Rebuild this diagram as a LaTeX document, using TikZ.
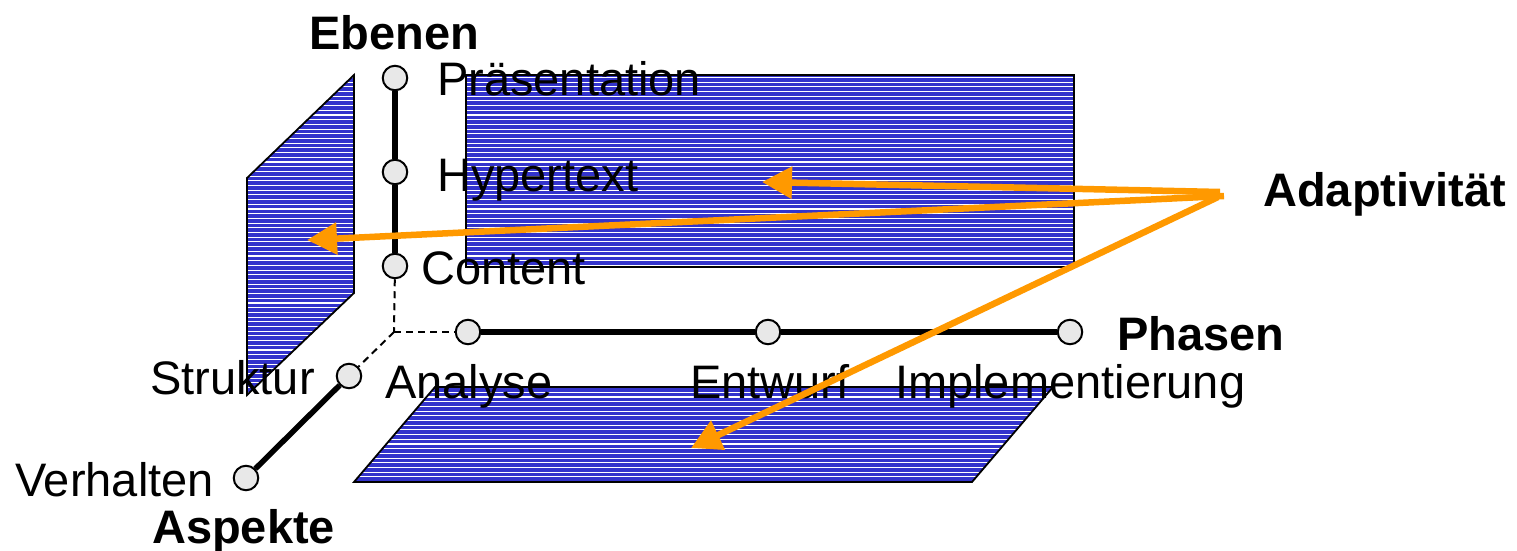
\documentclass[tikz,border=0pt]{standalone}
\usepackage{fontspec}
\setmainfont{Liberation Sans}
\usetikzlibrary{arrows.meta}

\definecolor{planeblue}{RGB}{51,51,204}
\definecolor{adaptorange}{RGB}{255,153,0}
\definecolor{knobgray}{RGB}{232,232,232}

\tikzset{
  lbl/.style={font=\fontsize{47}{56}\selectfont, inner sep=0pt, anchor=base west},
  blbl/.style={font=\fontsize{47}{56}\selectfont\bfseries, inner sep=0pt, anchor=base west},
  knob/.style={circle, draw=black, line width=2pt, fill=knobgray, minimum size=24.5pt, inner sep=0pt},
  axisline/.style={line width=5.5pt},
  hiddenline/.style={line width=2pt, dash pattern=on 7pt off 5pt},
  adapt/.style={draw=adaptorange, line width=6.5pt, -{Triangle[length=30pt,width=31pt]}},
  planeedge/.style={draw=black, line width=1.8pt, line join=miter},
}

% blue plane with white horizontal stripes
\newcommand\stripedplane[1]{%
  \fill[planeblue] #1 -- cycle;
  \begin{scope}
    \clip #1 -- cycle;
    \foreach \k in {0,...,100}
      \draw[white, line width=1.1pt] (200,{68+4.7*\k}) -- (1100,{68+4.7*\k});
  \end{scope}
  \draw[planeedge] #1 -- cycle;
}

\begin{document}
\begin{tikzpicture}[x=1pt, y=-1pt]
\useasboundingbox (0,0) rectangle (1517,551);

% planes
\stripedplane{(466,75) -- (1074,75) -- (1074,267) -- (466,267)}
\stripedplane{(354,75) -- (354,293) -- (247,395) -- (247,178)}
\stripedplane{(435,387) -- (1053,387) -- (972,482) -- (354,482)}

% axis knobs
\node[knob] (praes) at (395,78) {};
\node[knob] (hyper) at (395,172) {};
\node[knob] (cont)  at (395,266) {};
\coordinate (origin) at (394,332);
\node[knob] (anal)  at (468,332) {};
\node[knob] (entw)  at (768,332) {};
\node[knob] (impl)  at (1070,332) {};
\node[knob] (strk)  at (349,376) {};
\node[knob] (verh)  at (246,478) {};

% axes
\draw[axisline] (praes) -- (hyper);
\draw[axisline] (hyper) -- (cont);
\draw[axisline] (anal) -- (entw);
\draw[axisline] (entw) -- (impl);
\draw[axisline] (strk) -- (verh);
\draw[hiddenline] (cont) -- (origin);
\draw[hiddenline] (origin) -- (anal);
\draw[hiddenline] (origin) -- (strk);

% labels
\node[blbl] (tEbenen)  at (309,49)  {Ebenen};
\node[lbl]  (tPraes)   at (437,95)  {Präsentation};
\node[lbl]  (tHyper)   at (437,191) {Hypertext};
\node[lbl]  (tCont)    at (421,284) {Content};
\node[blbl] (tPhasen)  at (1117,350) {Phasen};
\node[lbl]  (tAnal)    at (385,398) {Analyse};
\node[lbl]  (tEntw)    at (690,398) {Entwurf};
\node[lbl]  (tImpl)    at (895,398) {Implementierung};
\node[lbl]  (tStrk)    at (150,394) {Struktur};
\node[lbl]  (tVerh)    at (15,496)  {Verhalten};
\node[blbl] (tAspekte) at (152,543) {Aspekte};
\node[blbl] (tAdapt)   at (1263,206) {Adaptivität};

% adaptivity arrows
\coordinate (srcA) at (1220,192);
\coordinate (srcB) at (1224,196);
\coordinate (srcC) at (1218,197);
\coordinate (tipH) at (762,182);
\coordinate (tipS) at (307,240);
\coordinate (tipP) at (691,448);
\draw[adapt] (srcA) -- (tipH);
\draw[adapt] (srcB) -- (tipS);
\draw[adapt] (srcC) -- (tipP);
\end{tikzpicture}
\end{document}
